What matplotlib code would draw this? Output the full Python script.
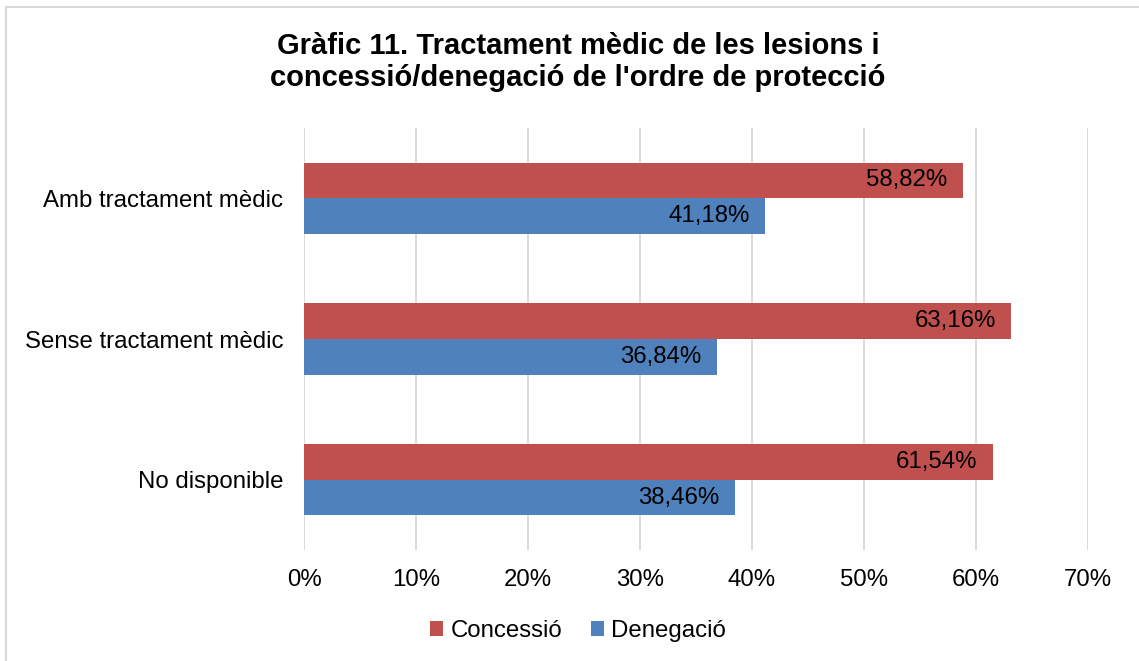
import numpy as np
import matplotlib.pyplot as plt
from matplotlib.patches import Rectangle

plt.rcParams["font.family"] = ["Liberation Sans", "DejaVu Sans"]

# Data
categories = ["Amb tractament mèdic", "Sense tractament mèdic", "No disponible"]
concessio = [58.82, 63.16, 61.54]
denegacio = [41.18, 36.84, 38.46]
series_names = ["Concessió", "Denegació"]
xticks = [0, 10, 20, 30, 40, 50, 60, 70]

red = "#C0504D"
blue = "#4F81BD"
fs = 17.3

fig = plt.figure(figsize=(11.39, 6.61), dpi=100)
ax = fig.add_axes([304 / 1139, 1 - 550 / 661, (1088 - 304) / 1139, (550 - 128) / 661])

y = np.arange(len(categories))
h = 0.254
b1 = ax.barh(y - h / 2, concessio, height=h, color=red, label=series_names[0], zorder=3)
b2 = ax.barh(y + h / 2, denegacio, height=h, color=blue, label=series_names[1], zorder=3)

for bars, vals in ((b1, concessio), (b2, denegacio)):
    for bar, v in zip(bars, vals):
        ax.text(v - 1.4, bar.get_y() + bar.get_height() / 2,
                f"{v:.2f}%".replace(".", ","), ha="right", va="center",
                fontsize=fs, color="black", zorder=4)

ax.set_xlim(0, 70)
ax.set_ylim(2.5, -0.5)
ax.set_xticks(xticks)
ax.set_xticklabels([f"{t}%" for t in xticks], fontsize=fs)
ax.set_yticks(y)
ax.set_yticklabels(categories, fontsize=fs)
ax.tick_params(axis="y", length=0, pad=15)
ax.tick_params(axis="x", length=0, pad=14)
ax.grid(axis="x", color="#D9D9D9", linewidth=1.3, zorder=0)
for s in ax.spines.values():
    s.set_visible(False)

fig.text(578 / 1139, 1 - 62 / 661,
         "Gràfic 11. Tractament mèdic de les lesions i\nconcessió/denegació de l'ordre de protecció",
         ha="center", va="center", fontsize=21, fontweight="bold", linespacing=1.2)

fig.legend(handles=[b1, b2], labels=series_names, loc="center",
           bbox_to_anchor=(578 / 1139, 1 - 631 / 661), ncol=2, frameon=False,
           fontsize=fs, handlelength=0.55, handleheight=0.55, handletextpad=0.3,
           columnspacing=1.2)

# light border (left and top edges visible only)
fig.patches.append(Rectangle((6 / 1139, -0.1), 1.2, 1 - 7 / 661 + 0.1,
                             transform=fig.transFigure, fill=False,
                             edgecolor="#D9D9D9", linewidth=1.5))

fig.savefig("out.png", dpi=100)
